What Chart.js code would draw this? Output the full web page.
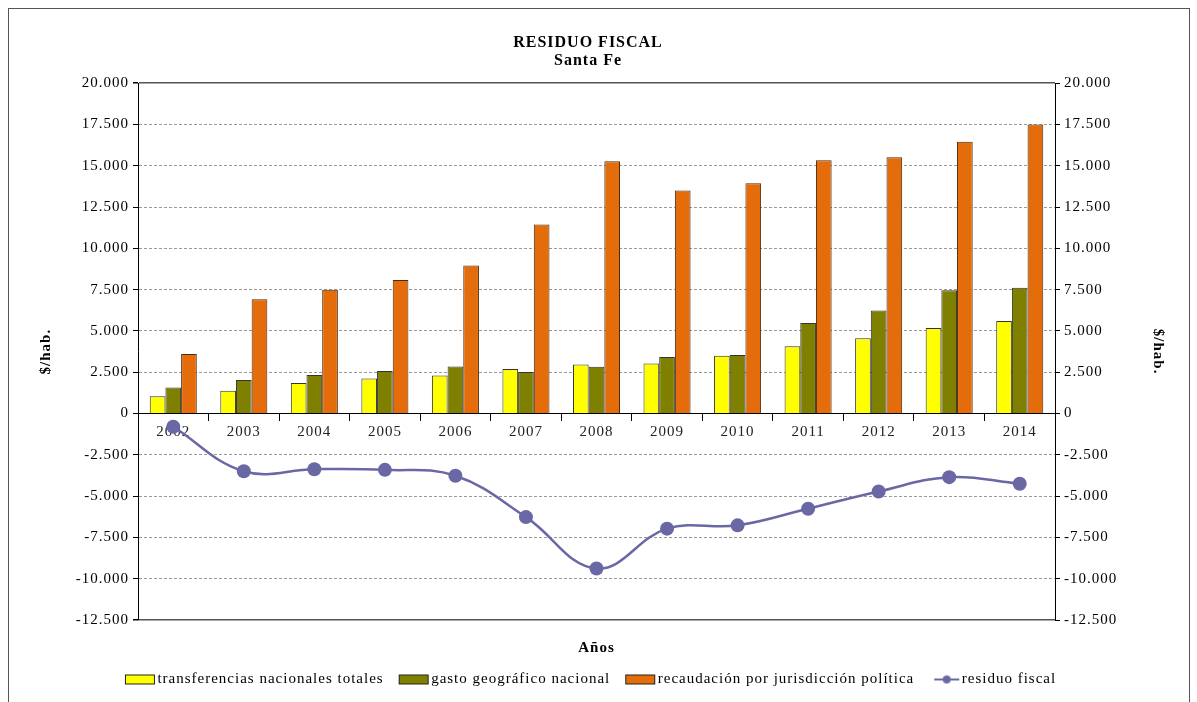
<!DOCTYPE html>
<html>
<head>
<meta charset="utf-8">
<script src="https://cdn.jsdelivr.net/npm/chart.js@4"></script>
<style>
  body { margin: 0; background: #fff; }
  #frame {
    position: absolute; left: 8px; top: 8px;
    width: 1180px; height: 694px;
    border: 1px solid #555; border-bottom: none;
  }
  #chart { display: block; }
</style>
</head>
<body>
<div id="frame"><canvas id="chart" width="1180" height="694"></canvas></div>
<script>
// Residuo fiscal - Santa Fe

const years = ['2002','2003','2004','2005','2006','2007','2008','2009','2010','2011','2012','2013','2014'];

const transferencias = [1040, 1380, 1850, 2120, 2300, 2690, 2970, 3030, 3500, 4080, 4560, 5180, 5600];
const gasto          = [1580, 2030, 2330, 2570, 2850, 2510, 2830, 3420, 3550, 5480, 6240, 7460, 7620];
const recaudacion    = [3600, 6920, 7500, 8090, 8970, 11450, 15270, 13510, 13950, 15340, 15520, 16450, 17500];
const residuo        = [-800, -3490, -3370, -3410, -3770, -6270, -9380, -6970, -6770, -5760, -4720, -3850, -4250];

const seriesNames = [
    'transferencias nacionales totales',
    'gasto geográfico nacional',
    'recaudación por jurisdicción política',
    'residuo fiscal'
];

const Y_MIN = -12500;
const Y_MAX = 20000;

const FONT = "'Liberation Serif', 'Times New Roman', serif";

// 20000 -> "20.000"
function fmt(v) {
    const s = Math.abs(v).toString().replace(/\B(?=(\d{3})+(?!\d))/g, '.');
    return (v < 0 ? '-' : '') + s;
}

// legend swatches (drawn shifted right so they sit close to the text)
function boxIcon(color) {
    const c = document.createElement('canvas');
    c.width = 46; c.height = 12;
    const g = c.getContext('2d');
    g.fillStyle = color;
    g.fillRect(13.5, 1.5, 29, 9);
    g.strokeStyle = '#222';
    g.lineWidth = 1;
    g.strokeRect(13.5, 1.5, 29, 9);
    return c;
}

function lineIcon(color) {
    const c = document.createElement('canvas');
    c.width = 46; c.height = 12;
    const g = c.getContext('2d');
    g.strokeStyle = color;
    g.lineWidth = 2;
    g.beginPath(); g.moveTo(18, 6); g.lineTo(43, 6); g.stroke();
    g.fillStyle = color;
    g.beginPath(); g.arc(30.5, 6, 4, 0, Math.PI * 2); g.fill();
    return c;
}

const yellow = '#ffff00';
const olive = '#808000';
const orange = '#e46c0a';
const purple = '#6a68a4';

const icons = [boxIcon(yellow), boxIcon(olive), boxIcon(orange), lineIcon(purple)];

// Times in the original is spaced out a little
const spacingPlugin = {
    id: 'spacing',
    beforeUpdate(ch) { ch.ctx.letterSpacing = '1px'; },
    beforeDraw(ch) { ch.ctx.letterSpacing = '1px'; }
};

function isEdge(c) {
    return c.tick && (c.tick.value === Y_MIN || c.tick.value === Y_MAX);
}

const ctx = document.getElementById('chart').getContext('2d');

const chart = new Chart(ctx, {
    plugins: [spacingPlugin],
    data: {
        labels: years,
        datasets: [
            {
                type: 'line',
                label: seriesNames[3],
                data: residuo,
                borderColor: purple,
                backgroundColor: purple,
                borderWidth: 2.5,
                pointRadius: 7,
                pointHoverRadius: 7,
                pointBackgroundColor: purple,
                pointBorderWidth: 0,
                tension: 0.4,
                order: 0
            },
            {
                type: 'bar',
                label: seriesNames[0],
                data: transferencias,
                backgroundColor: yellow,
                borderColor: '#333',
                borderWidth: 1,
                categoryPercentage: 0.667,
                barPercentage: 1,
                order: 1
            },
            {
                type: 'bar',
                label: seriesNames[1],
                data: gasto,
                backgroundColor: olive,
                borderColor: '#333',
                borderWidth: 1,
                categoryPercentage: 0.667,
                barPercentage: 1,
                order: 1
            },
            {
                type: 'bar',
                label: seriesNames[2],
                data: recaudacion,
                backgroundColor: orange,
                borderColor: '#4a2a10',
                borderWidth: 1,
                categoryPercentage: 0.667,
                barPercentage: 1,
                order: 1
            }
        ]
    },
    options: {
        responsive: false,
        animation: false,
        layout: { padding: { left: 0, right: 22, top: 0, bottom: 6 } },
        plugins: {
            title: {
                display: true,
                text: ['RESIDUO FISCAL', 'Santa Fe'],
                color: '#000',
                font: { family: FONT, size: 16, weight: 'bold', lineHeight: 1.1 },
                padding: { top: 25, bottom: 14 }
            },
            legend: {
                position: 'bottom',
                labels: {
                    usePointStyle: true,
                    pointStyleWidth: 30,
                    color: '#000',
                    font: { family: FONT, size: 15 },
                    padding: 10,
                    // bars first, line last like the original
                    generateLabels: function (ch) {
                        const order = [1, 2, 3, 0];
                        return order.map(function (i, k) {
                            return {
                                text: ch.data.datasets[i].label,
                                pointStyle: icons[k],
                                datasetIndex: i,
                                hidden: false,
                                fontColor: '#000',
                                lineWidth: 0
                            };
                        });
                    }
                }
            },
            tooltip: { enabled: false }
        },
        scales: {
            x: {
                type: 'category',
                position: { y: 0 },
                grid: {
                    display: true,
                    drawOnChartArea: false,
                    offset: true,
                    tickLength: 7,
                    tickColor: '#000'
                },
                border: { display: true, color: '#000', width: 1 },
                ticks: {
                    color: '#222',
                    font: { family: FONT, size: 15 },
                    padding: 3,
                    maxRotation: 0
                }
            },
            xb: {
                type: 'category',
                position: 'bottom',
                grid: { display: false },
                border: { display: false },
                ticks: { display: false },
                title: {
                    display: true,
                    text: 'Años',
                    color: '#000',
                    font: { family: FONT, size: 15, weight: 'bold' },
                    padding: { top: 11, bottom: 5 }
                }
            },
            y: {
                position: 'left',
                min: Y_MIN,
                max: Y_MAX,
                ticks: {
                    stepSize: 2500,
                    color: '#000',
                    font: { family: FONT, size: 15 },
                    padding: 4,
                    callback: function (v) { return fmt(v); }
                },
                grid: {
                    color: function (c) { return isEdge(c) ? '#555' : '#999'; },
                    lineWidth: function (c) { return isEdge(c) ? 1.5 : 1; },
                    tickColor: '#000',
                    tickLength: 5,
                    tickBorderDash: []
                },
                border: {
                    display: true, color: '#000', width: 1,
                    dash: function (c) { return isEdge(c) ? [] : [3, 2]; }
                },
                title: {
                    display: true,
                    text: '$/hab.',
                    color: '#000',
                    font: { family: FONT, size: 15, weight: 'bold' },
                    padding: { top: 28 }
                },
                afterFit: function (s) { s.width = 129; }
            },
            y2: {
                position: 'right',
                min: Y_MIN,
                max: Y_MAX,
                ticks: {
                    stepSize: 2500,
                    color: '#000',
                    font: { family: FONT, size: 15 },
                    padding: 4,
                    callback: function (v) { return fmt(v); }
                },
                grid: {
                    drawOnChartArea: false,
                    tickColor: '#000',
                    tickLength: 5
                },
                border: { display: true, color: '#000', width: 1 },
                title: {
                    display: true,
                    text: '$/hab.',
                    color: '#000',
                    font: { family: FONT, size: 15, weight: 'bold' },
                    padding: { top: 0 }
                },
                afterFit: function (s) { s.width = 112; }
            }
        }
    }
});
</script>
</body>
</html>
